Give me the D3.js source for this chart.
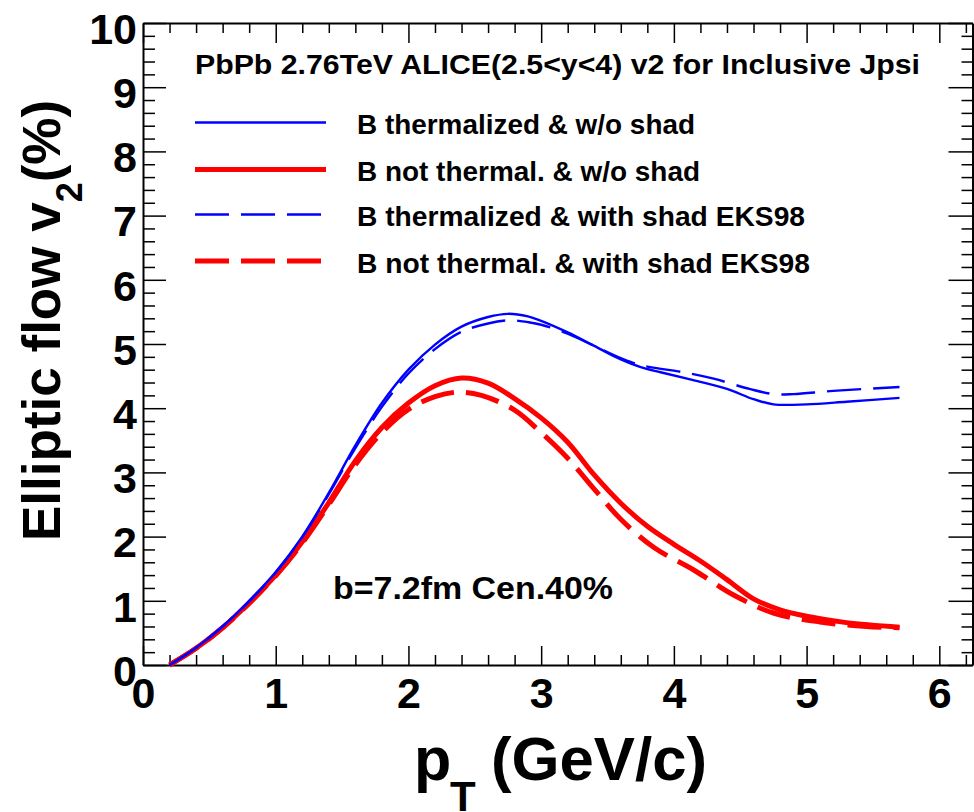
<!DOCTYPE html>
<html>
<head>
<meta charset="utf-8">
<script src="https://cdn.jsdelivr.net/npm/d3@7"></script>
<style>
  html, body { margin: 0; padding: 0; background: #fff; }
  svg { display: block; }
  text { font-family: "Liberation Sans", Arial, Helvetica, sans-serif; font-weight: bold; fill: #000; }
</style>
</head>
<body>
<div id="chart"></div>
<script>
// J/psi elliptic flow v2 (%) vs pT (GeV/c), PbPb 2.76 TeV, 2.5<y<4

// B thermalized & w/o shad
const ptBThermNoShad = [0.2, 0.4, 0.6, 0.8, 1.0, 1.2, 1.4, 1.6, 1.8, 2.0, 2.2, 2.4, 2.6, 2.75, 2.9, 3.0, 3.2, 3.4, 3.6, 3.75, 3.9, 4.1, 4.4, 4.6, 4.75, 5.0, 5.3, 5.7];
const v2BThermNoShad = [0.0, 0.27, 0.6, 1.0, 1.45, 2.0, 2.68, 3.42, 4.08, 4.6, 4.99, 5.27, 5.42, 5.47, 5.43, 5.36, 5.18, 4.97, 4.76, 4.64, 4.56, 4.46, 4.3, 4.14, 4.06, 4.06, 4.1, 4.16];

// B not thermal. & w/o shad
const ptBNotThermNoShad = [0.2, 0.4, 0.6, 0.8, 1.0, 1.2, 1.4, 1.6, 1.8, 2.0, 2.2, 2.4, 2.6, 2.8, 3.0, 3.2, 3.4, 3.6, 3.8, 4.0, 4.2, 4.4, 4.6, 4.8, 5.0, 5.3, 5.7];
const v2BNotThermNoShad = [0.0, 0.26, 0.58, 0.97, 1.4, 1.92, 2.53, 3.18, 3.7, 4.08, 4.35, 4.47, 4.39, 4.15, 3.85, 3.47, 2.96, 2.52, 2.16, 1.88, 1.62, 1.33, 1.03, 0.86, 0.76, 0.66, 0.59];

// B thermalized & with shad EKS98
const ptBThermShad = [0.2, 0.4, 0.6, 0.8, 1.0, 1.2, 1.4, 1.6, 1.8, 2.0, 2.2, 2.4, 2.6, 2.77, 2.9, 3.0, 3.2, 3.4, 3.6, 3.75, 4.1, 4.3, 4.57, 4.75, 4.9, 5.2, 5.7];
const v2BThermShad = [0.0, 0.27, 0.6, 0.99, 1.44, 1.99, 2.66, 3.38, 4.02, 4.54, 4.92, 5.19, 5.32, 5.37, 5.34, 5.3, 5.16, 4.97, 4.78, 4.67, 4.55, 4.46, 4.3, 4.22, 4.22, 4.27, 4.33];

// B not thermal. & with shad EKS98
const ptBNotThermShad = [0.2, 0.4, 0.6, 0.8, 1.0, 1.2, 1.4, 1.6, 1.8, 2.0, 2.2, 2.37, 2.55, 2.8, 3.0, 3.2, 3.4, 3.6, 3.85, 4.15, 4.45, 4.75, 5.1, 5.45, 5.7];
const v2BNotThermShad = [0.0, 0.26, 0.58, 0.96, 1.39, 1.9, 2.5, 3.12, 3.62, 3.98, 4.18, 4.25, 4.2, 3.97, 3.62, 3.22, 2.74, 2.27, 1.83, 1.48, 1.09, 0.81, 0.67, 0.6, 0.58];

const legendLabels = [
  "B thermalized & w/o shad",
  "B not thermal. & w/o shad",
  "B thermalized & with shad EKS98",
  "B not thermal. & with shad EKS98"
];
const xMajorTicks = [0, 1, 2, 3, 4, 5, 6];
const yMajorTicks = [0, 1, 2, 3, 4, 5, 6, 7, 8, 9, 10];
const titleText = "PbPb 2.76TeV ALICE(2.5<y<4) v2 for Inclusive Jpsi";
const noteText = "b=7.2fm Cen.40%";

const W = 974, H = 812;
const frame = { left: 143, right: 972.5, top: 23, bottom: 665 };

const svg = d3.select("#chart").append("svg")
  .attr("width", W).attr("height", H);

const x = d3.scaleLinear().domain([0, 6.25]).range([frame.left, frame.right]);
const y = d3.scaleLinear().domain([0, 10]).range([frame.bottom, frame.top]);

const xMinor = d3.range(0, 6.25 + 1e-9, 0.2).filter(v => Math.abs(v - Math.round(v)) > 1e-6);
const yMinor = d3.range(0, 10 + 1e-9, 0.2).filter(v => Math.abs(v - Math.round(v)) > 1e-6);

function styleAxis(g) {
  g.selectAll("line").attr("stroke", "#000").attr("stroke-width", 1.5);
  g.selectAll("path.domain").attr("stroke", "#000").attr("stroke-width", 2);
}

// bottom axis with labels
const gB = svg.append("g").attr("transform", `translate(0,${frame.bottom})`)
  .call(d3.axisBottom(x).tickValues(xMajorTicks).tickSizeInner(-19).tickSizeOuter(0).tickPadding(12).tickFormat(d3.format("d")));
gB.call(styleAxis);
gB.selectAll("text").style("font-size", "43px").attr("fill", "#000");
svg.append("g").attr("transform", `translate(0,${frame.bottom})`)
  .call(d3.axisBottom(x).tickValues(xMinor).tickSizeInner(-10).tickSizeOuter(0).tickFormat(""))
  .call(styleAxis).select("path.domain").remove();

// top axis
const gT = svg.append("g").attr("transform", `translate(0,${frame.top})`)
  .call(d3.axisTop(x).tickValues(xMajorTicks).tickSizeInner(-20).tickSizeOuter(0).tickFormat(""));
gT.call(styleAxis);
svg.append("g").attr("transform", `translate(0,${frame.top})`)
  .call(d3.axisTop(x).tickValues(xMinor).tickSizeInner(-10).tickSizeOuter(0).tickFormat(""))
  .call(styleAxis).select("path.domain").remove();

// left axis with labels
const gL = svg.append("g").attr("transform", `translate(${frame.left},0)`)
  .call(d3.axisLeft(y).tickValues(yMajorTicks).tickSizeInner(-23).tickSizeOuter(0).tickPadding(6).tickFormat(d3.format("d")));
gL.call(styleAxis);
gL.selectAll("text").style("font-size", "43px").attr("fill", "#000").attr("dy", "0.47em");
svg.append("g").attr("transform", `translate(${frame.left},0)`)
  .call(d3.axisLeft(y).tickValues(yMinor).tickSizeInner(-12).tickSizeOuter(0).tickFormat(""))
  .call(styleAxis).select("path.domain").remove();

// right axis
const gR = svg.append("g").attr("transform", `translate(${frame.right},0)`)
  .call(d3.axisRight(y).tickValues(yMajorTicks).tickSizeInner(-24).tickSizeOuter(0).tickFormat(""));
gR.call(styleAxis);
svg.append("g").attr("transform", `translate(${frame.right},0)`)
  .call(d3.axisRight(y).tickValues(yMinor).tickSizeInner(-11).tickSizeOuter(0).tickFormat(""))
  .call(styleAxis).select("path.domain").remove();

// curves
const series = [
  { pt: ptBThermNoShad,    v2: v2BThermNoShad,    color: "#0000ff", width: 2.4, dash: null },
  { pt: ptBNotThermNoShad, v2: v2BNotThermNoShad, color: "#ff0000", width: 5,   dash: null },
  { pt: ptBThermShad,      v2: v2BThermShad,      color: "#0000ff", width: 2.4, dash: "34,12" },
  { pt: ptBNotThermShad,   v2: v2BNotThermShad,   color: "#ff0000", width: 5,   dash: "34,12" }
];

const line = d3.line()
  .x(d => x(d[0]))
  .y(d => y(d[1]))
  .curve(d3.curveCatmullRom.alpha(0.5));

// draw thick red first so blue stays visible on top
[1, 3, 0, 2].forEach(i => {
  const s = series[i];
  svg.append("path")
    .datum(s.pt.map((p, k) => [p, s.v2[k]]))
    .attr("fill", "none")
    .attr("stroke", s.color)
    .attr("stroke-width", s.width)
    .attr("stroke-dasharray", s.dash)
    .attr("d", line);
});

// title
svg.append("text").attr("x", 195).attr("y", 74)
  .style("font-size", "27px").attr("textLength", 725).attr("lengthAdjust", "spacingAndGlyphs")
  .text(titleText);

// legend
const legendY = [122.5, 169.5, 214.5, 261];
const legendLen = [338, 343, 448, 453];
series.forEach((s, i) => {
  svg.append("line")
    .attr("x1", 195).attr("x2", 326)
    .attr("y1", legendY[i]).attr("y2", legendY[i])
    .attr("stroke", s.color).attr("stroke-width", s.width)
    .attr("stroke-dasharray", s.dash);
  svg.append("text").attr("x", 357).attr("y", legendY[i] + 11.5)
    .style("font-size", "27px")
    .attr("textLength", legendLen[i]).attr("lengthAdjust", "spacingAndGlyphs")
    .text(legendLabels[i]);
});

// centrality note
svg.append("text").attr("x", 333).attr("y", 599)
  .style("font-size", "31px").attr("textLength", 280).attr("lengthAdjust", "spacingAndGlyphs")
  .text(noteText);

// x-axis title: p_T (GeV/c)
svg.append("text").attr("x", 414).attr("y", 780).style("font-size", "61px").text("p");
svg.append("text").attr("x", 450).attr("y", 811).style("font-size", "42px").text("T");
svg.append("text").attr("x", 491).attr("y", 780).style("font-size", "61px")
  .attr("textLength", 216).attr("lengthAdjust", "spacingAndGlyphs").text("(GeV/c)");

// y-axis title: Elliptic flow v_2(%)
const yt = svg.append("text")
  .attr("transform", "translate(60,541) rotate(-90)")
  .style("font-size", "53px");
yt.append("tspan").text("Elliptic flow v");
yt.append("tspan").attr("dy", 22).style("font-size", "36px").text("2");
yt.append("tspan").attr("dy", -22).text("(%)");
</script>
</body>
</html>
